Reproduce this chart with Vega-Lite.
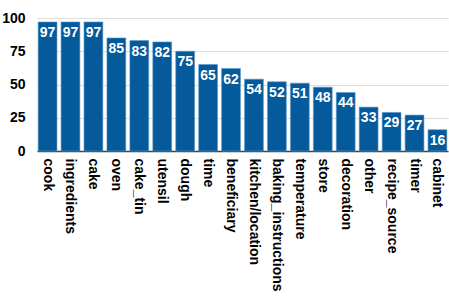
{
  "$schema": "https://vega.github.io/schema/vega-lite/v6.json",
  "width": 411,
  "height": 133,
  "autosize": "none",
  "padding": {"left": 37, "right": 1, "top": 18, "bottom": 145},
  "config": {"view": {"stroke": null}, "font": "Liberation Sans"},
  "data": {"values": [
    {"k": "cook", "v": 97},
    {"k": "ingredients", "v": 97},
    {"k": "cake", "v": 97},
    {"k": "oven", "v": 85},
    {"k": "cake_tin", "v": 83},
    {"k": "utensil", "v": 82},
    {"k": "dough", "v": 75},
    {"k": "time", "v": 65},
    {"k": "beneficiary", "v": 62},
    {"k": "kitchen/location", "v": 54},
    {"k": "baking_instructions", "v": 52},
    {"k": "temperature", "v": 51},
    {"k": "store", "v": 48},
    {"k": "decoration", "v": 44},
    {"k": "other", "v": 33},
    {"k": "recipe_source", "v": 29},
    {"k": "timer", "v": 27},
    {"k": "cabinet", "v": 16}
  ]},
  "encoding": {
    "x": {"field": "k", "type": "nominal", "sort": null, "title": null,
      "scale": {"paddingInner": 0.18, "paddingOuter": 0.05},
      "axis": {"labelAngle": 90, "labelAlign": "left", "labelBaseline": "middle", "labelFontSize": 14, "labelFontWeight": "bold", "labelColor": "#000", "ticks": false, "labelPadding": 7, "domainColor": "#444", "domainWidth": 1.5, "labelLimit": 300}},
    "y": {"field": "v", "type": "quantitative", "title": null,
      "scale": {"domain": [0, 100]},
      "axis": {"values": [0, 25, 50, 75, 100], "labelFontSize": 14, "labelFontWeight": "bold", "labelColor": "#000", "domain": false, "ticks": false, "labelPadding": 12, "gridColor": "#dddddd"}}
  },
  "layer": [
    {"mark": {"type": "bar", "color": "#045a9a", "stroke": "#5b95c6", "strokeWidth": 0.6}},
    {"mark": {"type": "text", "baseline": "top", "dy": 4, "color": "white", "fontSize": 14, "fontWeight": "bold"},
      "encoding": {"text": {"field": "v", "type": "quantitative"}}}
  ]
}
